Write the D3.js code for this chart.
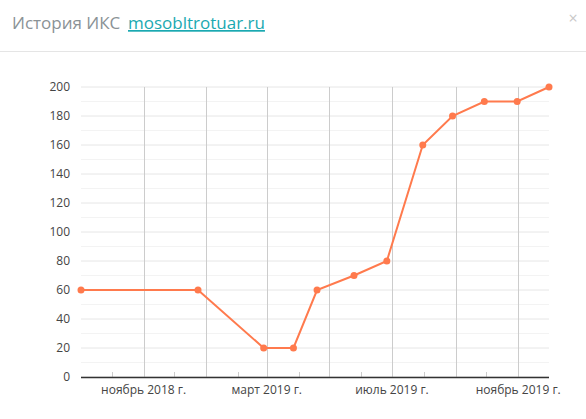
<!DOCTYPE html><html><head><meta charset="utf-8"><script src="https://cdn.jsdelivr.net/npm/d3@7"></script>
<style>body{margin:0;background:#fff;font-family:"Open Sans",Arial,sans-serif}</style></head><body><svg id="c" width="586" height="419"></svg>
<script>
const dates=["2018-09-01","2018-12-24","2019-02-26","2019-03-27","2019-04-19","2019-05-25","2019-06-26","2019-07-31","2019-08-29","2019-09-29","2019-10-31","2019-12-01"];
const values=[60,60,20,20,60,70,80,160,180,190,190,200];
const yTicks=[0,20,40,60,80,100,120,140,160,180,200];
const monthNames=["январь","февраль","март","апрель","май","июнь","июль","август","сентябрь","октябрь","ноябрь","декабрь"];
const svg=d3.select("#c");
const p=d3.timeParse("%Y-%m-%d");
const x=d3.scaleTime().domain([p("2018-09-01"),p("2019-12-01")]).range([81,549]);
const y=d3.scaleLinear().domain([0,200]).range([377,87]);
svg.append("text").attr("x",12).attr("y",29).attr("font-size",17).attr("fill","#8a9296").text("История ИКС ");
svg.append("text").attr("x",128).attr("y",29).attr("font-size",17).attr("fill","#1aa9b1").attr("text-decoration","underline").text("mosobltrotuar.ru");
svg.append("text").attr("x",573).attr("y",24).attr("font-size",16).attr("fill","#c8c8c8").attr("text-anchor","middle").text("×");
svg.append("line").attr("x1",0).attr("x2",586).attr("y1",51.5).attr("y2",51.5).attr("stroke","#e5e5e5");
d3.range(0,201,10).forEach(v=>svg.append("line").attr("x1",81).attr("x2",549).attr("y1",y(v)).attr("y2",y(v)).attr("stroke",v%20?"#f3f3f3":"#e6e6e6"));
const months=d3.timeMonth.range(p("2018-10-01"),p("2019-12-01"));
months.forEach(m=>{const mi=m.getMonth();const xx=Math.round(x(m))+0.5;
 if(mi%2==0) svg.append("line").attr("x1",xx).attr("x2",xx).attr("y1",87).attr("y2",377).attr("stroke","#cccccc");
 else svg.append("line").attr("x1",xx).attr("x2",xx).attr("y1",377).attr("y2",372).attr("stroke","#cccccc");});
[p("2018-11-01"),p("2019-03-01"),p("2019-07-01"),p("2019-11-01")].forEach(m=>svg.append("text").attr("x",x(m)).attr("y",394).attr("text-anchor","middle").attr("font-size",12).attr("fill","#444").text(monthNames[m.getMonth()]+" "+m.getFullYear()+" г."));
svg.append("g").attr("transform","translate(81,0)").call(d3.axisLeft(y).tickValues(yTicks).tickSize(0).tickPadding(11)).call(g=>{g.select(".domain").remove();g.selectAll("text").attr("font-size",12).attr("fill","#444").attr("font-family","Open Sans,Arial,sans-serif");});
svg.append("line").attr("x1",81).attr("x2",549).attr("y1",377.5).attr("y2",377.5).attr("stroke","#333").attr("stroke-width",1.3);
const data=dates.map((d,i)=>({d:p(d),v:values[i]}));
svg.append("path").datum(data).attr("d",d3.line().x(d=>x(d.d)).y(d=>y(d.v))).attr("fill","none").attr("stroke","#ff7a4d").attr("stroke-width",2);
svg.selectAll("circle").data(data).join("circle").attr("cx",d=>x(d.d)).attr("cy",d=>y(d.v)).attr("r",3.5).attr("fill","#ff7a4d");
</script></body></html>
